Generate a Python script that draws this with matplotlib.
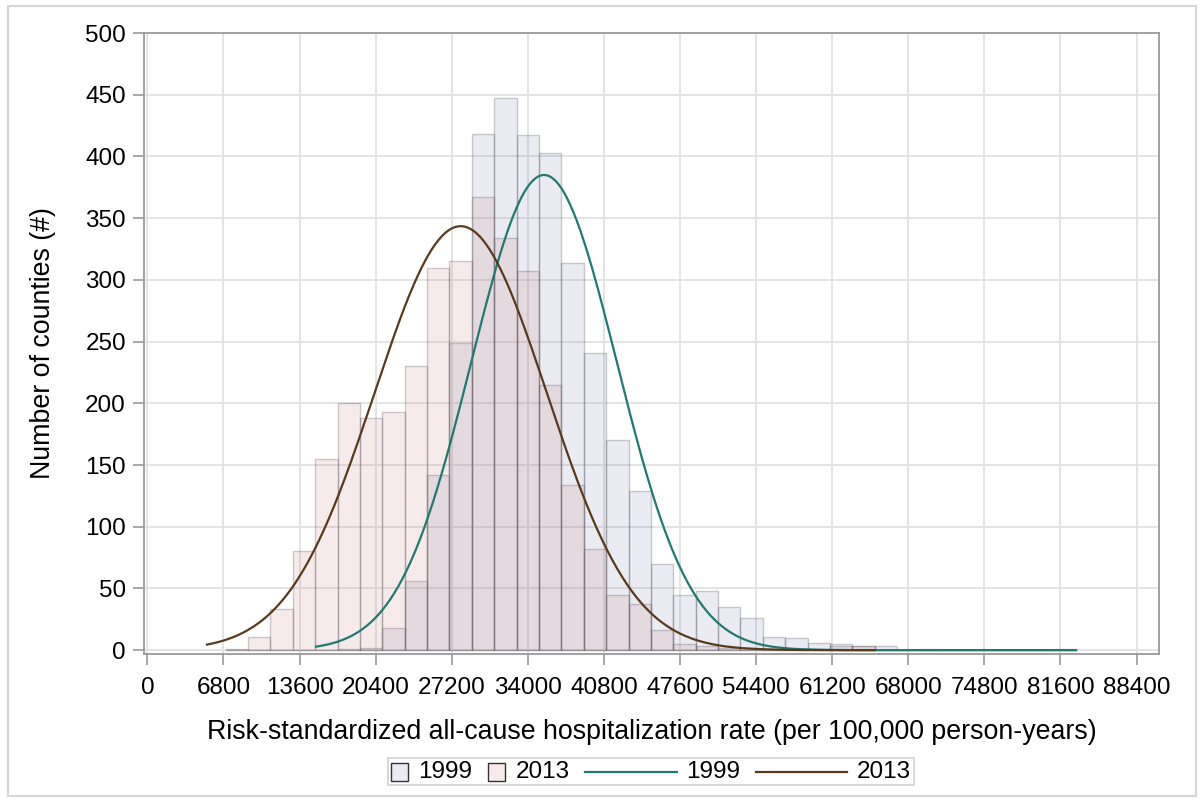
import numpy as np
import matplotlib
matplotlib.use("Agg")
import matplotlib.pyplot as plt
from matplotlib.patches import Rectangle
from matplotlib.lines import Line2D
from matplotlib.offsetbox import HPacker, TextArea, DrawingArea, AnchoredOffsetbox

plt.rcParams['font.family'] = ['Liberation Sans', 'DejaVu Sans']

# histogram bins (centre of each 2000-wide bin)
bin_width = 2000
bin_centers = [8000, 10000, 12000, 14000, 16000, 18000, 20000, 22000, 24000,
               26000, 28000, 30000, 32000, 34000, 36000, 38000, 40000, 42000,
               44000, 46000, 48000, 50000, 52000, 54000, 56000, 58000, 60000,
               62000, 64000, 66000, 68000, 70000, 72000, 74000, 76000, 78000,
               80000, 82000]

counts_1999 = [0, 0, 0, 0, 0, 1, 2, 18, 56,
               142, 249, 418, 447, 417, 403, 314, 241, 170,
               129, 70, 45, 48, 35, 26, 11, 10, 6,
               5, 3, 3, 0, 1, 0, 0, 0, 0,
               0, 1]
counts_2013 = [1, 11, 33, 80, 155, 200, 188, 193, 230,
               310, 315, 367, 334, 307, 215, 134, 82, 45,
               37, 16, 5, 3, 2, 2, 1, 1, 1,
               3, 3, 0, 0, 0, 0, 0, 0, 0,
               0, 0]

# fitted normal curves: mean, sd, peak height, drawn from data min to max
fit_1999 = dict(mean=35450, sd=6500, peak=385, lo=15070, hi=83000)
fit_2013 = dict(mean=28000, sd=7700, peak=343.5, lo=5330, hi=65000)

x_ticks = [0, 6800, 13600, 20400, 27200, 34000, 40800, 47600, 54400,
           61200, 68000, 74800, 81600, 88400]
y_ticks = [0, 50, 100, 150, 200, 250, 300, 350, 400, 450, 500]

c_bar_1999 = (110/255, 120/255, 170/255, 0.14)
c_bar_2013 = (200/255, 110/255, 110/255, 0.14)
c_edge = (0.35, 0.35, 0.38, 0.3)
c_teal = '#1f7a70'
c_brown = '#5a3a1c'
c_grid = '#e2e2e2'
c_spine = '#9a9a9a'

fig = plt.figure(figsize=(12, 8), dpi=100)
ax = fig.add_axes([0.12, 0.183, 0.8458, 0.7757])

ax.bar(bin_centers, counts_1999, width=bin_width, color=c_bar_1999,
       edgecolor=c_edge, linewidth=1, zorder=2)
ax.bar(bin_centers, counts_2013, width=bin_width, color=c_bar_2013,
       edgecolor=c_edge, linewidth=1, zorder=2)


def normal_curve(fit):
    xs = np.linspace(fit['lo'], fit['hi'], 400)
    ys = fit['peak'] * np.exp(-0.5 * ((xs - fit['mean']) / fit['sd']) ** 2)
    return xs, ys


xs, ys = normal_curve(fit_1999)
ax.plot(xs, ys, color=c_teal, lw=1.6, zorder=3)
xs, ys = normal_curve(fit_2013)
ax.plot(xs, ys, color=c_brown, lw=1.6, zorder=3)

ax.set_xlim(-300, 90400)
ax.set_ylim(-2.8, 500)
ax.set_xticks(x_ticks)
ax.set_yticks(y_ticks)
ax.grid(True, color=c_grid, lw=1.3, zorder=0)
ax.set_axisbelow(True)
for s in ax.spines.values():
    s.set_color(c_spine)
    s.set_linewidth(1.3)
ax.tick_params(axis='both', length=8, width=1.2, color=c_spine,
               labelsize=17.5, pad=5)
ax.tick_params(axis='x', pad=9)

ax.set_xlabel('Risk-standardized all-cause hospitalization rate (per 100,000 person-years)',
              fontsize=19.3, labelpad=14)
ax.set_ylabel('Number of counties (#)', fontsize=19.3, labelpad=21)

# legend row below the plot
items = []
for kind, col, lab in [('box', c_bar_1999, '1999'), ('box', c_bar_2013, '2013'),
                       ('line', c_teal, '1999'), ('line', c_brown, '2013')]:
    if kind == 'box':
        da = DrawingArea(13, 13, 0, 0)
        da.add_artist(Rectangle((0, 0), 12.5, 12.5, facecolor=col,
                                edgecolor='#333333', lw=1))
    else:
        da = DrawingArea(66, 13, 0, 0)
        da.add_artist(Line2D([0, 66], [6.5, 6.5], color=col, lw=1.6))
    items.append(HPacker(children=[da, TextArea(lab, textprops=dict(size=17.5))],
                         sep=7, align='center'))
row = HPacker(children=items, sep=11, align='center')
leg = AnchoredOffsetbox(loc='center', child=row, frameon=True, pad=0.2,
                        borderpad=0, bbox_to_anchor=(0.5425, 0.0356),
                        bbox_transform=fig.transFigure)
leg.patch.set_edgecolor('#d4d4d4')
leg.patch.set_linewidth(1.3)
fig.add_artist(leg)

# light frame round the whole figure
fig.add_artist(Rectangle((0.007, 0.005), 0.99, 0.988, transform=fig.transFigure,
                         fill=False, edgecolor='#d6d6d6', lw=1.5))

fig.savefig('out.png', dpi=100)
